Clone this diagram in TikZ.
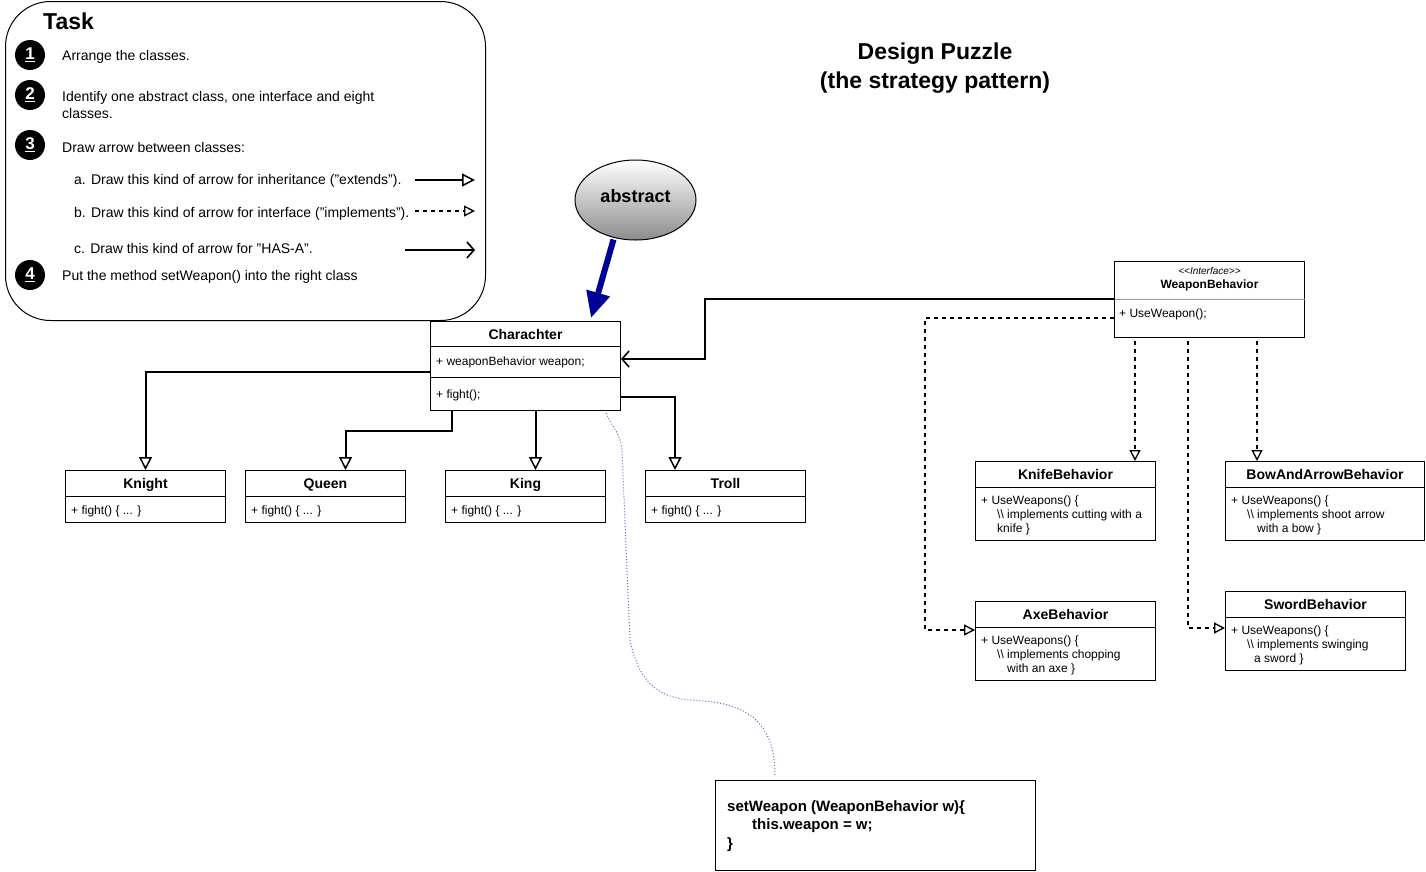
\documentclass[tikz,border=0pt]{standalone}
\usepackage{fontspec}
\setmainfont{Liberation Sans}
\usetikzlibrary{arrows.meta,calc,shapes.geometric}
\definecolor{noteblue}{RGB}{102,102,204}
\definecolor{arrblue}{RGB}{0,0,150}
\begin{document}
\begin{tikzpicture}[x=1pt,y=-1pt,
  box/.style={draw, line width=1pt, fill=white, inner sep=0pt, anchor=north west},
  ttl/.style={font=\fontsize{14}{16}\selectfont\bfseries, inner sep=0pt, text height=10.5pt, text depth=3pt},
  bodytxt/.style={font=\fontsize{12}{14}\selectfont, anchor=west, align=left, inner sep=0pt},
  tasktxt/.style={font=\fontsize{14}{17}\selectfont, anchor=west, align=left, inner sep=0pt},
  numdot/.style={circle, fill=black, minimum size=30pt, inner sep=0pt, text=white, font=\fontsize{17}{18}\selectfont\bfseries},
  inh/.style={line width=2pt, -{Triangle[open, length=13pt, width=13pt, line width=1.5pt]}},
  impl/.style={line width=1.3pt, dash pattern=on 4pt off 4pt, -{Triangle[open, length=11pt, width=11pt, line width=1.3pt]}},
  hasa/.style={line width=1.6pt, -{Straight Barb[length=7pt, width=16pt, line width=1.6pt]}},
  sep/.style={line width=1pt}
]
\useasboundingbox (0,0) rectangle (1426,871);

% ---------- Task box ----------
\node[draw, line width=1pt, rounded corners=45pt, minimum width=480pt, minimum height=319pt, anchor=north west, inner sep=0pt] (task) at (5,1) {};
\node[font=\fontsize{23}{26}\selectfont\bfseries, anchor=west, inner sep=0pt] (tasktitle) at (43,21) {Task};
\node[numdot] (n1) at (30,55) {\underline{1}};
\node[numdot] (n2) at (30,95) {\underline{2}};
\node[numdot] (n3) at (30,145) {\underline{3}};
\node[numdot] (n4) at (30,275) {\underline{4}};
\node[tasktxt] (t1) at (62,57) {Arrange the classes.};
\node[tasktxt] (t2) at (62,105) {Identify one abstract class, one interface and eight\\classes.};
\node[tasktxt] (t3) at (62,147) {Draw arrow between classes:};
\node[tasktxt] (t3a) at (74,181) {a. Draw this kind of arrow for inheritance (\symbol{34}extends\symbol{34}).};
\node[tasktxt] (t3b) at (74,214) {b. Draw this kind of arrow for interface (\symbol{34}implements\symbol{34}).};
\node[tasktxt] (t3c) at (74,248) {c. Draw this kind of arrow for \symbol{34}HAS-A\symbol{34}.};
\node[tasktxt] (t4) at (62,277) {Put the method setWeapon() into the right class};
\coordinate (sa1) at (415,180); \coordinate (sa2) at (475,180);
\coordinate (sb1) at (415,211); \coordinate (sb2) at (475,211);
\coordinate (sc1) at (405,250); \coordinate (sc2) at (475,250);
\draw[inh] (sa1) -- (sa2);
\draw[impl] (sb1) -- (sb2);
\draw[hasa] (sc1) -- (sc2);

% ---------- Title ----------
\node[font=\fontsize{23}{29}\selectfont\bfseries, align=center, inner sep=0pt] (title) at (935,68.5) {Design Puzzle\\(the strategy pattern)};

% ---------- abstract ellipse ----------
\node[ellipse, draw, line width=1pt, top color=white, bottom color=black!45, minimum width=121pt, minimum height=80pt, inner sep=0pt] (abs) at (635.5,200) {};
\node[font=\fontsize{18}{20}\selectfont\bfseries, inner sep=0pt] (abstxt) at (635.5,196) {abstract};

% ---------- Charachter ----------
\node[box, minimum width=190pt, minimum height=89pt] (char) at (430,321) {};
\draw[sep] ($(char.north west)+(0,25)$) -- ($(char.north east)+(0,25)$);
\draw[sep] ($(char.north west)+(0,56)$) -- ($(char.north east)+(0,56)$);
\node[ttl] (chartitle) at ($(char.north)+(0,15)$) {Charachter};
\node[bodytxt] (charattr) at ($(char.north west)+(6,41)$) {+ weaponBehavior weapon;};
\node[bodytxt] (charop) at ($(char.north west)+(6,74)$) {+ fight();};

% ---------- subclasses ----------
\foreach \nm/\tx/\xx in {knight/Knight/65, queen/Queen/245, king/King/445, troll/Troll/645}{
  \node[box, minimum width=160pt, minimum height=52pt] (\nm) at (\xx,470) {};
  \draw[sep] ($(\nm.north west)+(0,26)$) -- ($(\nm.north east)+(0,26)$);
  \node[ttl] (\nm-t) at ($(\nm.north)+(0,15)$) {\tx};
  \node[bodytxt] (\nm-b) at ($(\nm.north west)+(6,41)$) {+ fight() \{ ... \}};
}

% inheritance arrows
\draw[inh] ($(char.north west)+(0,51)$) -| (knight.north);
\draw[inh] ($(char.south west)+(22,0)$) -- ++(0,20) -| ($(queen.north)+(20,0)$);
\draw[inh] ($(char.south)+(10,0)$) -- ($(king.north)+(10,0)$);
\draw[inh] ($(char.south east)+(0,-14)$) -| ($(troll.north west)+(30,0)$);

% abstract arrow
\draw[line width=6pt, arrblue, -{Triangle[length=26pt, width=23pt]}] ($(abs.south)+(-22,-1)$) -- ($(char.north east)+(-30,-3)$);

% ---------- Interface ----------
\node[box, minimum width=190pt, minimum height=76pt] (iface) at (1114,261) {};
\draw[line width=1pt, black!40] ($(iface.north west)+(0.5,38)$) -- ($(iface.north east)+(-0.5,38)$);
\node[font=\fontsize{10}{12}\selectfont\itshape, inner sep=0pt] (ifst) at ($(iface.north)+(0,10)$) {<\kern0pt<Interface>\kern0pt>};
\node[font=\fontsize{12}{14}\selectfont\bfseries, inner sep=0pt] (ift) at ($(iface.north)+(0,24)$) {WeaponBehavior};
\node[bodytxt] (ifop) at ($(iface.north west)+(5,53)$) {+ UseWeapon();};

% HAS-A
\draw[hasa] ($(iface.north west)+(0,38)$) -- ++(-409,0) |- ($(char.north east)+(0,38)$);

% ---------- Behaviors ----------
\node[box, minimum width=180pt, minimum height=79pt] (knife) at (975,461) {};
\draw[sep] ($(knife.north west)+(0,26)$) -- ($(knife.north east)+(0,26)$);
\node[ttl] (knife-t) at ($(knife.north)+(0,15)$) {KnifeBehavior};
\node[bodytxt] (knife-b) at ($(knife.north west)+(6,54)$) {+ UseWeapons() \{\\\hspace*{16pt}\textbackslash\textbackslash{} implements cutting with a\\\hspace*{16pt}knife \}};

\node[box, minimum width=199pt, minimum height=79pt] (bow) at (1225,461) {};
\draw[sep] ($(bow.north west)+(0,26)$) -- ($(bow.north east)+(0,26)$);
\node[ttl] (bow-t) at ($(bow.north)+(0,15)$) {BowAndArrowBehavior};
\node[bodytxt] (bow-b) at ($(bow.north west)+(6,54)$) {+ UseWeapons() \{\\\hspace*{16pt}\textbackslash\textbackslash{} implements shoot arrow\\\hspace*{26pt}with a bow \}};

\node[box, minimum width=180pt, minimum height=79pt] (axe) at (975,601) {};
\draw[sep] ($(axe.north west)+(0,26)$) -- ($(axe.north east)+(0,26)$);
\node[ttl] (axe-t) at ($(axe.north)+(0,15)$) {AxeBehavior};
\node[bodytxt] (axe-b) at ($(axe.north west)+(6,54)$) {+ UseWeapons() \{\\\hspace*{16pt}\textbackslash\textbackslash{} implements chopping\\\hspace*{26pt}with an axe \}};

\node[box, minimum width=180pt, minimum height=79pt] (sword) at (1225,591) {};
\draw[sep] ($(sword.north west)+(0,26)$) -- ($(sword.north east)+(0,26)$);
\node[ttl] (sword-t) at ($(sword.north)+(0,15)$) {SwordBehavior};
\node[bodytxt] (sword-b) at ($(sword.north west)+(6,54)$) {+ UseWeapons() \{\\\hspace*{16pt}\textbackslash\textbackslash{} implements swinging\\\hspace*{23pt}a sword \}};

% implements arrows
\draw[impl] ($(iface.south west)+(21,3)$) -- ($(knife.north west)+(160,0)$);
\draw[impl] ($(iface.south west)+(143,3)$) -- ($(bow.north west)+(32,0)$);
\draw[impl] ($(iface.south west)+(74,3)$) |- ($(sword.north west)+(0,37)$);
\draw[impl] ($(iface.north west)+(0,57)$) -- ++(-189,0) |- ($(axe.north west)+(0,29)$);

% ---------- note ----------
\node[box, minimum width=320pt, minimum height=90pt] (note) at (715,780) {};
\node[font=\fontsize{15}{18.5}\selectfont\bfseries, anchor=west, align=left, inner sep=0pt] (notetxt) at ($(note.north west)+(12,46)$) {setWeapon (WeaponBehavior w)\{\\\hspace*{25pt}this.weapon = w;\\\}};
\draw[noteblue, line width=1pt, dotted] ($(char.south east)+(-15,2)$) .. controls (612,428) and (621,432) .. (622,452) -- (630,640) .. controls (640,688) and (662,700) .. (705,701) .. controls (760,706) and (775,735) .. ($(note.north west)+(60,-3)$);
\end{tikzpicture}
\end{document}
